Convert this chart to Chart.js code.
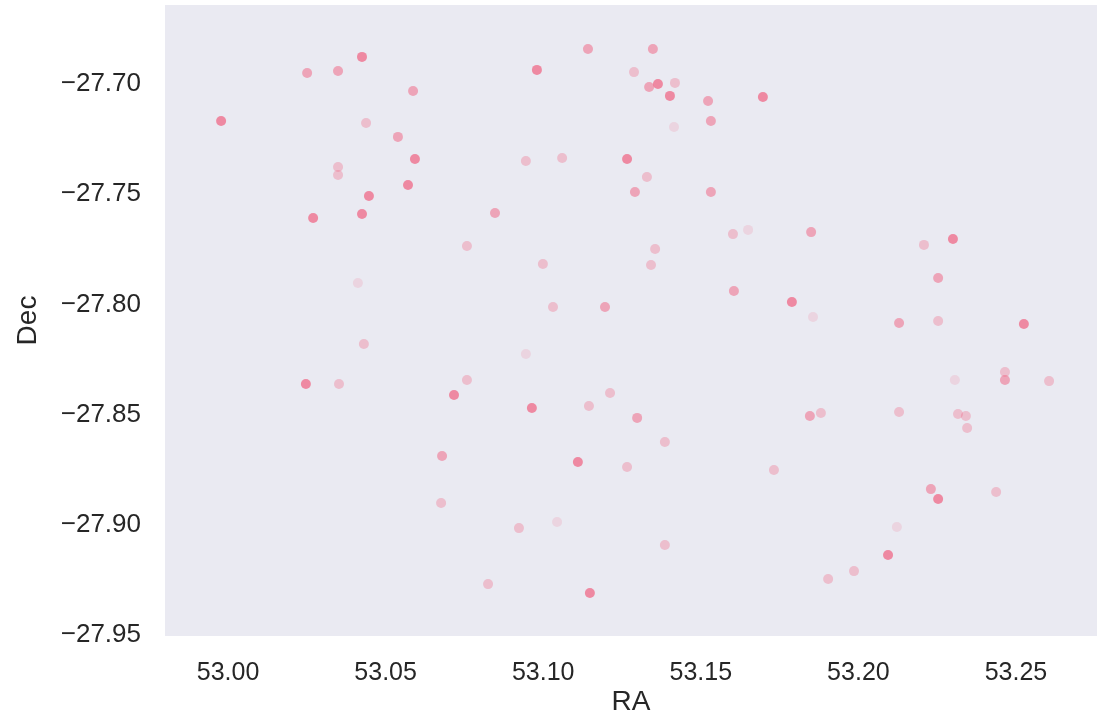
<!DOCTYPE html>
<html>
<head>
<meta charset="utf-8">
<script src="https://cdn.jsdelivr.net/npm/chart.js@4/dist/chart.umd.min.js"></script>
<style>
    html, body { margin: 0; padding: 0; background: #fff; }
    canvas { display: block; }
</style>
</head>
<body>
<canvas id="radec" width="1097" height="725"></canvas>
<script>
// source positions
var ra = [
    52.9978, 53.0251, 53.0349, 53.0425, 53.0587, 53.0438, 53.0539, 53.0593, 53.0349, 53.0349,
    53.0571, 53.0447, 53.0270, 53.0425, 53.0758, 53.0412, 53.0980, 53.1142, 53.1348, 53.1288,
    53.1336, 53.1364, 53.1418, 53.1402, 53.1523, 53.1697, 53.1532, 53.1415, 53.0945, 53.1060,
    53.1266, 53.1329, 53.1291, 53.1532, 53.0847, 53.1602, 53.1650, 53.1355, 53.0999, 53.1342,
    53.1605, 53.1789, 53.1031, 53.1196, 53.1850, 53.2208, 53.2300, 53.2253, 53.1856, 53.2129,
    53.2253, 53.2525, 53.0431, 53.0247, 53.0352, 53.0758, 53.0717, 53.0679, 53.0676, 53.0945,
    53.0964, 53.1145, 53.1212, 53.1298, 53.1386, 53.1110, 53.1266, 53.1732, 53.0923, 53.1044,
    53.1386, 53.0825, 53.1148, 53.1846, 53.1881, 53.2129, 53.2306, 53.2465, 53.2465, 53.2605,
    53.2316, 53.2341, 53.2345, 53.2230, 53.2253, 53.2437, 53.2122, 53.2094, 53.1986, 53.1904
];
var dec = [
    -27.7168, -27.6950, -27.6941, -27.6877, -27.7032, -27.7177, -27.7240, -27.7340, -27.7377, -27.7413,
    -27.7458, -27.7508, -27.7608, -27.7590, -27.7735, -27.7903, -27.6936, -27.6841, -27.6841, -27.6946,
    -27.7014, -27.7000, -27.6995, -27.7054, -27.7077, -27.7059, -27.7168, -27.7195, -27.7349, -27.7336,
    -27.7340, -27.7422, -27.7490, -27.7490, -27.7585, -27.7681, -27.7662, -27.7749, -27.7817, -27.7821,
    -27.7939, -27.7989, -27.8012, -27.8012, -27.7672, -27.7730, -27.7703, -27.7880, -27.8057, -27.8084,
    -27.8075, -27.8089, -27.8180, -27.8361, -27.8361, -27.8343, -27.8411, -27.8688, -27.8901, -27.8225,
    -27.8470, -27.8461, -27.8402, -27.8515, -27.8624, -27.8715, -27.8738, -27.8751, -27.9015, -27.8987,
    -27.9092, -27.9269, -27.9309, -27.8506, -27.8493, -27.8488, -27.8343, -27.8307, -27.8343, -27.8348,
    -27.8497, -27.8506, -27.8561, -27.8838, -27.8883, -27.8851, -27.9010, -27.9137, -27.9210, -27.9246
];
// how strong each dot looks, 1 (faint) .. 4 (strong)
var strength = [
    4, 3, 3, 4, 3, 2, 3, 4, 2, 2,
    4, 4, 4, 4, 2, 1, 4, 3, 3, 2,
    3, 4, 2, 4, 3, 4, 3, 1, 2, 2,
    4, 2, 3, 3, 3, 2, 1, 2, 2, 2,
    3, 4, 2, 3, 3, 2, 4, 3, 1, 3,
    2, 4, 2, 4, 2, 2, 4, 3, 2, 1,
    4, 2, 2, 3, 2, 4, 2, 2, 2, 1,
    2, 2, 4, 3, 2, 2, 1, 2, 3, 2,
    2, 2, 2, 3, 4, 2, 1, 4, 2, 2
];
var raTicks = [53.00, 53.05, 53.10, 53.15, 53.20, 53.25];
var decTicks = [-27.70, -27.75, -27.80, -27.85, -27.90, -27.95];

var alphaFor = [0, 0.16, 0.33, 0.52, 0.72];

function fmt(v) {
    return v.toFixed(2).replace('-', '\u2212');
}

var points = [];
var colors = [];
for (var i = 0; i < ra.length; i++) {
    points.push({x: ra[i], y: dec[i]});
    colors.push('rgba(240, 100, 130, ' + alphaFor[strength[i]] + ')');
}

var plotBg = {
    id: 'plotBg',
    beforeDraw: function (chart) {
        var a = chart.chartArea;
        var ctx = chart.ctx;
        ctx.save();
        ctx.fillStyle = '#EAEAF2';
        ctx.fillRect(a.left, a.top, a.right - a.left, a.bottom - a.top);
        ctx.restore();
    }
};

var tickFont = {family: "'Liberation Sans', Arial, sans-serif", size: 25};
var titleFont = {family: "'Liberation Sans', Arial, sans-serif", size: 28};

var ctx = document.getElementById('radec').getContext('2d');
new Chart(ctx, {
    type: 'scatter',
    data: {
        datasets: [{
            data: points,
            backgroundColor: colors,
            borderWidth: 0,
            pointRadius: 5,
            pointHoverRadius: 5
        }]
    },
    options: {
        responsive: false,
        animation: false,
        devicePixelRatio: 1,
        layout: {autoPadding: false, padding: {top: 5, right: 0, left: 0, bottom: 0}},
        plugins: {legend: {display: false}, tooltip: {enabled: false}},
        scales: {
            x: {
                type: 'linear',
                min: 52.9800,
                max: 53.2757,
                grid: {display: false},
                border: {display: false},
                afterBuildTicks: function (scale) {
                    scale.ticks = raTicks.map(function (v) { return {value: v}; });
                },
                afterFit: function (scale) {
                    scale.height = 89;
                    scale.paddingLeft = 0;
                    scale.paddingRight = 0;
                },
                ticks: {
                    color: '#262626',
                    font: tickFont,
                    padding: 14,
                    maxRotation: 0,
                    callback: function (v) { return fmt(v); }
                },
                title: {
                    display: true,
                    text: 'RA',
                    color: '#262626',
                    font: titleFont,
                    padding: {top: 0, bottom: 6}
                }
            },
            y: {
                type: 'linear',
                min: -27.95045,
                max: -27.66416,
                grid: {display: false},
                border: {display: false},
                afterBuildTicks: function (scale) {
                    scale.ticks = decTicks.map(function (v) { return {value: v}; });
                },
                afterFit: function (scale) {
                    scale.width = 165;
                    scale.paddingTop = 0;
                    scale.paddingBottom = 0;
                },
                ticks: {
                    color: '#262626',
                    font: {family: "'Liberation Sans', Arial, sans-serif", size: 26},
                    padding: 16,
                    callback: function (v) { return fmt(v); }
                },
                title: {
                    display: true,
                    text: 'Dec',
                    color: '#262626',
                    font: titleFont,
                    padding: {top: 11, bottom: 0}
                }
            }
        }
    },
    plugins: [plotBg]
});
</script>
</body>
</html>
